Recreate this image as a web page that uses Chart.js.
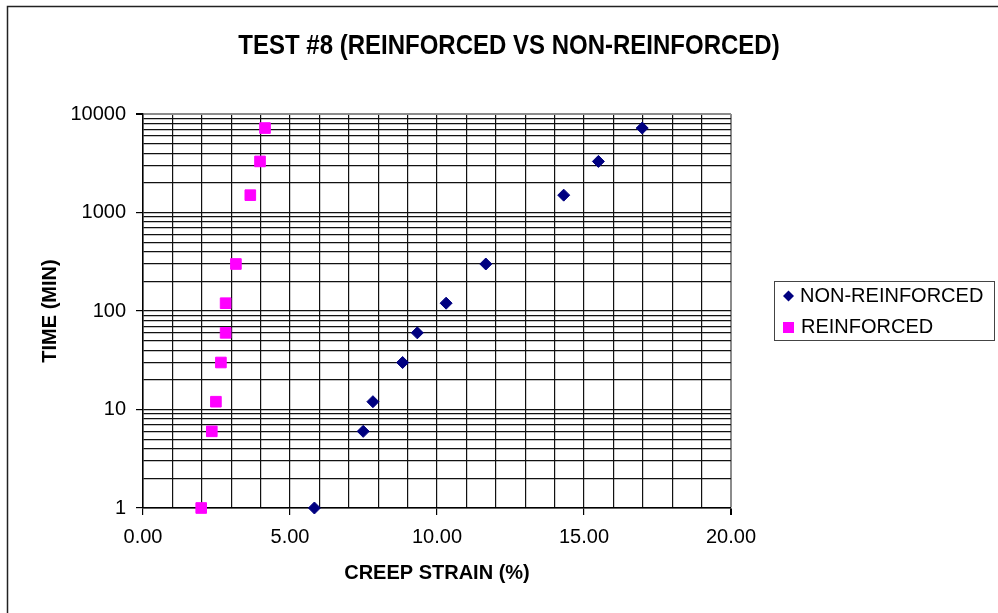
<!DOCTYPE html>
<html>
<head>
<meta charset="utf-8">
<title>Test #8 creep strain</title>
<script src="https://cdn.jsdelivr.net/npm/chart.js@4.4.1/dist/chart.umd.min.js"></script>
<style>
    html, body { margin: 0; padding: 0; background: #fff; }
    #wrap { width: 998px; height: 613px; }
</style>
</head>
<body>
<div id="wrap"><canvas id="creepChart" width="998" height="613"></canvas></div>
<script>
// time values (min) shared by both series
const timeMin = [1, 6, 12, 30, 60, 120, 300, 1500, 3300, 7200];
// creep strain (%)
const nonReinforcedStrain = [5.83, 7.49, 7.82, 8.83, 9.33, 10.31, 11.66, 14.31, 15.49, 16.98];
const reinforcedStrain = [1.98, 2.34, 2.48, 2.65, 2.81, 2.81, 3.16, 3.65, 3.98, 4.15];

const seriesNames = ["NON-REINFORCED", "REINFORCED"];
const yTickLabels = [1, 10, 100, 1000, 10000];
const xTickLabels = [0, 5, 10, 15, 20];

const chartTitle = "TEST #8 (REINFORCED VS NON-REINFORCED)";

function toPoints(xs, ys) {
    return xs.map((x, i) => ({ x: x, y: ys[i] }));
}

// =========================
// Title, legend box and frame
// =========================
const excelBits = {
    id: "excelBits",
    beforeDraw(chart) {
        const ctx = chart.ctx;
        ctx.save();
        ctx.fillStyle = "#fff";
        ctx.fillRect(0, 0, chart.width, chart.height);
        ctx.restore();
    },
    afterDraw(chart) {
        const ctx = chart.ctx;
        ctx.save();

        // outer frame (only left/top show in the crop)
        ctx.strokeStyle = "#222";
        ctx.lineWidth = 1.5;
        ctx.beginPath();
        ctx.moveTo(7.5, chart.height);
        ctx.lineTo(7.5, 6.5);
        ctx.lineTo(chart.width, 6.5);
        ctx.stroke();

        // title, a little taller like the original
        ctx.save();
        ctx.translate(509, 47);
        ctx.scale(1, 1.12);
        ctx.fillStyle = "#000";
        ctx.font = "bold 24px 'Liberation Sans', Arial, sans-serif";
        ctx.textAlign = "center";
        ctx.textBaseline = "middle";
        ctx.fillText(chartTitle, 0, 0);
        ctx.restore();

        // legend
        ctx.strokeStyle = "#444";
        ctx.lineWidth = 1;
        ctx.strokeRect(774.5, 281.5, 220, 59);

        ctx.fillStyle = "#000080";
        ctx.beginPath();
        ctx.moveTo(788.5, 290.5);
        ctx.lineTo(794, 296);
        ctx.lineTo(788.5, 301.5);
        ctx.lineTo(783, 296);
        ctx.closePath();
        ctx.fill();

        ctx.fillStyle = "#FF00FF";
        ctx.fillRect(783, 322, 11, 11);

        ctx.fillStyle = "#000";
        ctx.font = "20px 'Liberation Sans', Arial, sans-serif";
        ctx.textAlign = "left";
        ctx.textBaseline = "middle";
        ctx.fillText(seriesNames[0], 800, 296);
        ctx.fillText(seriesNames[1], 801, 327);

        ctx.restore();
    }
};

const canvas = document.getElementById("creepChart");

new Chart(canvas, {
    type: "scatter",
    data: {
        datasets: [{
            label: seriesNames[0],
            data: toPoints(nonReinforcedStrain, timeMin),
            pointStyle: "rectRot",
            pointRadius: 6,
            pointHoverRadius: 6,
            backgroundColor: "#000080",
            borderColor: "#000080",
            borderWidth: 1,
            clip: false
        }, {
            label: seriesNames[1],
            data: toPoints(reinforcedStrain, timeMin),
            pointStyle: "rect",
            pointRadius: 7.5,
            pointHoverRadius: 7.5,
            backgroundColor: "#FF00FF",
            borderColor: "#FF00FF",
            borderWidth: 1,
            clip: false
        }]
    },
    options: {
        responsive: false,
        animation: false,
        layout: {
            padding: { left: 0, top: 114, right: 267, bottom: 0 }
        },
        plugins: {
            legend: { display: false },
            title: { display: false },
            tooltip: { enabled: false }
        },
        scales: {
            x: {
                type: "linear",
                min: 0,
                max: 20,
                ticks: {
                    stepSize: 1,
                    autoSkip: false,
                    maxRotation: 0,
                    padding: 10,
                    color: "#000",
                    font: { family: "'Liberation Sans', Arial, sans-serif", size: 20 },
                    callback: function (value) {
                        return xTickLabels.includes(value) ? value.toFixed(2) : "";
                    }
                },
                grid: {
                    color: (c) => c.tick && c.tick.value === 20 ? "#8c8c8c" : "#111",
                    lineWidth: (c) => c.tick && c.tick.value === 20 ? 2 : 1.2,
                    tickLength: 7,
                    tickColor: (c) => c.tick && xTickLabels.includes(c.tick.value) ? "#000" : "rgba(0,0,0,0)"
                },
                border: { color: "#000", width: 1.5 },
                title: {
                    display: true,
                    text: "CREEP STRAIN (%)",
                    color: "#000",
                    font: { family: "'Liberation Sans', Arial, sans-serif", size: 20, weight: "bold" },
                    padding: { top: 0, bottom: 28 }
                },
                afterFit: function (scale) {
                    scale.height = 105;
                }
            },
            y: {
                type: "logarithmic",
                min: 1,
                max: 10000,
                afterBuildTicks: function (scale) {
                    const ticks = [];
                    yTickLabels.forEach((decade, i) => {
                        if (i === yTickLabels.length - 1) {
                            ticks.push({ value: decade });
                            return;
                        }
                        for (let m = 1; m < 10; m++) {
                            ticks.push({ value: decade * m });
                        }
                    });
                    scale.ticks = ticks;
                },
                ticks: {
                    autoSkip: false,
                    padding: 10,
                    color: "#000",
                    font: { family: "'Liberation Sans', Arial, sans-serif", size: 20 },
                    callback: function (value) {
                        return yTickLabels.includes(value) ? String(value) : "";
                    }
                },
                grid: {
                    color: (c) => c.tick && c.tick.value === 10000 ? "#8c8c8c" : "#111",
                    lineWidth: (c) => c.tick && c.tick.value === 10000 ? 2 : 1.2,
                    tickLength: 7,
                    tickColor: (c) => c.tick && yTickLabels.includes(c.tick.value) ? "#000" : "rgba(0,0,0,0)"
                },
                border: { color: "#000", width: 1.5 },
                title: {
                    display: true,
                    text: "TIME (MIN)",
                    color: "#000",
                    font: { family: "'Liberation Sans', Arial, sans-serif", size: 20, weight: "bold" },
                    padding: { top: 38, bottom: 0 }
                },
                afterFit: function (scale) {
                    scale.width = 143;
                }
            }
        }
    },
    plugins: [excelBits]
});
</script>
</body>
</html>
